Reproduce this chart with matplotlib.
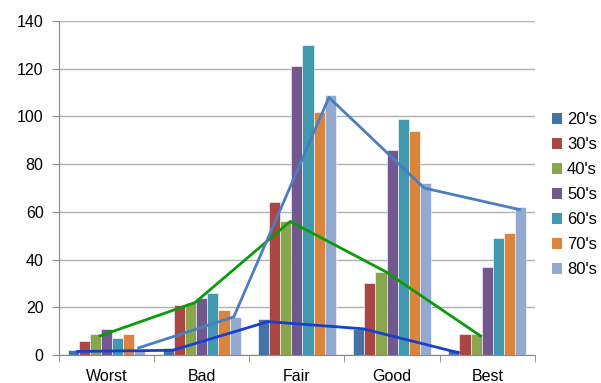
import numpy as np
import matplotlib
matplotlib.use("Agg")
import matplotlib.pyplot as plt
from matplotlib.patches import Patch

plt.rcParams['font.family'] = ['Liberation Sans', 'DejaVu Sans']

# Données
categories = ["Worst", "Bad", "Fair", "Good", "Best"]
series = ["20's", "30's", "40's", "50's", "60's", "70's", "80's"]
v20 = [2, 3, 15, 11, 2]
v30 = [6, 21, 64, 30, 9]
v40 = [9, 22, 56, 35, 9]
v50 = [11, 24, 121, 86, 37]
v60 = [7, 26, 130, 99, 49]
v70 = [9, 19, 102, 94, 51]
v80 = [2, 16, 109, 72, 62]

# lignes tracées par-dessus (20's, 40's, 80's)
ligne20 = [1.5, 2, 14, 11, 1]
ligne40 = [8, 22, 56, 35, 8]
ligne80 = [3, 16, 108, 70, 61]

couleurs = ["#4572A7", "#AA4643", "#89A54E", "#71588F", "#4198AF", "#DB843D", "#93A9CF"]
valeurs = [v20, v30, v40, v50, v60, v70, v80]

fig = plt.figure(figsize=(6.01, 3.83), dpi=100)
ax = fig.add_axes([0.098, 0.073, 0.792, 0.872])

x = np.arange(len(categories))
largeur = 0.117
decalages = (np.arange(len(series)) - 3) * largeur

for i, (vals, c) in enumerate(zip(valeurs, couleurs)):
    ax.bar(x + decalages[i], vals, width=largeur, color=c, edgecolor="white",
           linewidth=0.4, zorder=2)

# Lignes
dx = largeur * 0.4
ax.plot(x + decalages[0] + dx, ligne20, color="#1A3FCC", lw=2, zorder=3)
ax.plot(x + decalages[2] + dx, ligne40, color="#0A9A0A", lw=2, zorder=3)
ax.plot(x + decalages[6] - dx * 0.3, ligne80, color="#4A7EC4", lw=2, zorder=3)

ax.set_xlim(-0.5, 4.5)
ax.set_ylim(0, 140)
ax.set_yticks(range(0, 141, 20))
ax.yaxis.grid(True, color="#B0B0B0", lw=1)
ax.set_axisbelow(True)

ax.set_xticks(x)
ax.set_xticklabels(categories, fontsize=11.5)
ax.set_xticks(np.arange(-0.5, 5, 1), minor=True)
ax.tick_params(axis="x", which="major", length=0, pad=10)
ax.tick_params(axis="x", which="minor", length=5, color="#888888")
ax.tick_params(axis="y", length=5, color="#888888", labelsize=11.5, pad=6)

for s in ["top", "right"]:
    ax.spines[s].set_visible(False)
for s in ["left", "bottom"]:
    ax.spines[s].set_color("#888888")

handles = [Patch(facecolor=c, edgecolor="none") for c in couleurs]
fig.legend(handles, series, loc="center left", bbox_to_anchor=(0.918, 0.491),
           frameon=False, fontsize=12, handlelength=0.62, handleheight=0.62,
           handletextpad=0.3, labelspacing=0.6, borderpad=0, borderaxespad=0)

fig.savefig("out.png", dpi=100)
